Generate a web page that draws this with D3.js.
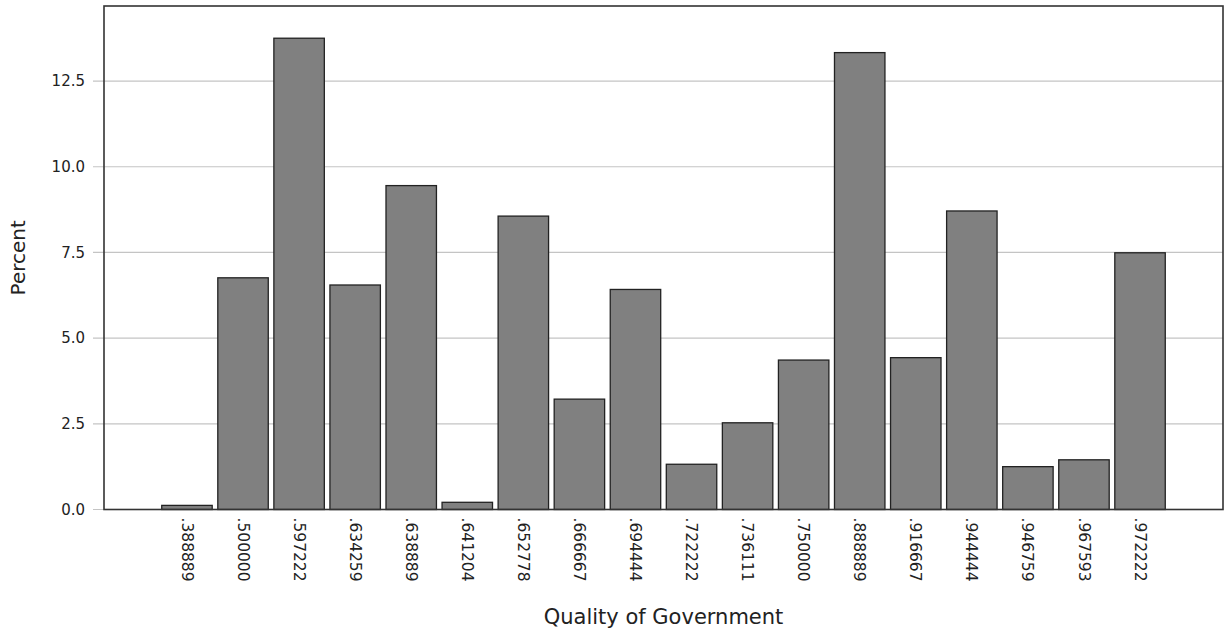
<!DOCTYPE html>
<html>
<head>
<meta charset="utf-8">
<script src="https://cdn.jsdelivr.net/npm/d3@7"></script>
<style>
  html, body { margin: 0; padding: 0; background: #fff; }
  svg { display: block; }
  text { font-family: "DejaVu Sans", sans-serif; fill: #222; }
</style>
</head>
<body>
<svg id="chart" width="1225" height="633"></svg>
<script>
// ---- data ----
const categories = [".388889", ".500000", ".597222", ".634259", ".638889", ".641204",
  ".652778", ".666667", ".694444", ".722222", ".736111", ".750000", ".888889",
  ".916667", ".944444", ".946759", ".967593", ".972222"];
const percents = [0.12, 6.76, 13.75, 6.55, 9.45, 0.21, 8.56, 3.22, 6.42, 1.32,
  2.53, 4.36, 13.33, 4.43, 8.71, 1.25, 1.45, 7.49];
const yTicks = [0, 2.5, 5, 7.5, 10, 12.5];
const xTitle = "Quality of Government";
const yTitle = "Percent";

// ---- layout ----
const W = 1225, H = 633;
const plot = { left: 104, right: 1223, top: 6, bottom: 509.5 };

const svg = d3.select("#chart");

const x = d3.scaleBand()
  .domain(categories)
  .range([plot.left, plot.right])
  .paddingInner(0.1)
  .paddingOuter(1.03);

const y = d3.scaleLinear()
  .domain([0, 14.69])
  .range([plot.bottom, plot.top]);

// gridlines
svg.append("g")
  .selectAll("line")
  .data(yTicks)
  .join("line")
  .attr("x1", plot.left - 11)
  .attr("x2", plot.right)
  .attr("y1", d => y(d))
  .attr("y2", d => y(d))
  .attr("stroke", "#c4c4c4")
  .attr("stroke-width", 1.2);

// y axis labels
const yAxis = d3.axisLeft(y).tickValues(yTicks).tickFormat(d3.format(".1f")).tickSize(0).tickPadding(0);
const yg = svg.append("g").attr("transform", `translate(${plot.left - 19},0)`).call(yAxis);
yg.select(".domain").remove();
yg.selectAll("text").attr("font-size", 15).attr("font-family", "DejaVu Sans").attr("fill", "#222");

// bars
svg.append("g")
  .selectAll("rect")
  .data(categories)
  .join("rect")
  .attr("x", d => x(d))
  .attr("width", x.bandwidth())
  .attr("y", (d, i) => y(percents[i]))
  .attr("height", (d, i) => y(0) - y(percents[i]))
  .attr("fill", "#808080")
  .attr("stroke", "#222")
  .attr("stroke-width", 1.3);

// frame
svg.append("rect")
  .attr("x", plot.left)
  .attr("y", plot.top)
  .attr("width", plot.right - plot.left)
  .attr("height", plot.bottom - plot.top)
  .attr("fill", "none")
  .attr("stroke", "#333")
  .attr("stroke-width", 1.6);

// x axis labels (rotated)
const xAxis = d3.axisBottom(x).tickSize(0).tickPadding(0);
const xg = svg.append("g").attr("transform", `translate(0,${plot.bottom})`).call(xAxis);
xg.select(".domain").remove();
xg.selectAll("text")
  .attr("font-size", 15.5)
  .attr("font-family", "DejaVu Sans")
  .attr("fill", "#222")
  .attr("text-anchor", "start")
  .attr("transform", "rotate(90)")
  .attr("x", 8)
  .attr("y", 0)
  .attr("dy", "0.35em");

// axis titles
svg.append("text")
  .attr("x", (plot.left + plot.right) / 2)
  .attr("y", 624)
  .attr("text-anchor", "middle")
  .attr("font-size", 21)
  .text(xTitle);

svg.append("text")
  .attr("transform", `translate(25,${(plot.top + plot.bottom) / 2}) rotate(-90)`)
  .attr("text-anchor", "middle")
  .attr("font-size", 20)
  .text(yTitle);
</script>
</body>
</html>
